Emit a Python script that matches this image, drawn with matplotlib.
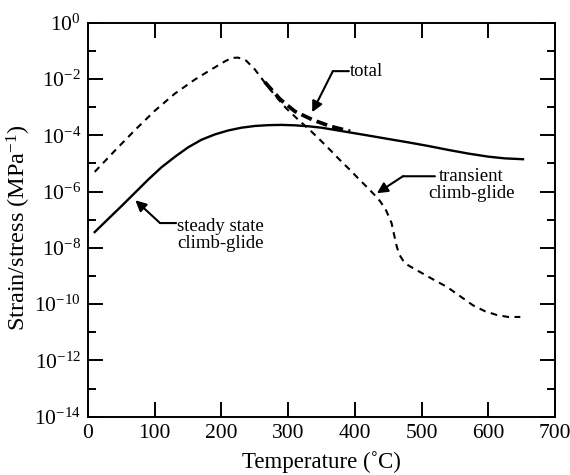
import numpy as np
import matplotlib.pyplot as plt
from matplotlib.ticker import FixedLocator, FuncFormatter

plt.rcParams['font.family'] = ['Liberation Serif', 'DejaVu Serif']
plt.rcParams['mathtext.fontset'] = 'custom'
plt.rcParams['mathtext.rm'] = 'Liberation Serif'
plt.rcParams['mathtext.it'] = 'Liberation Serif:italic'

# steady state climb-glide (solid)
T_steady = [10, 30, 50, 70, 90, 110, 130, 150, 170, 190, 210, 230, 250, 270, 290,
            310, 330, 350, 370, 390, 420, 450, 480, 510, 540, 570, 600, 625, 652]
s_steady = [3.63e-8, 1.05e-7, 3.02e-7, 8.9e-7, 2.63e-6, 7.24e-6, 1.7e-5, 3.72e-5,
            6.92e-5, 1.07e-4, 1.48e-4, 1.86e-4, 2.14e-4, 2.29e-4, 2.34e-4,
            2.26e-4, 2.09e-4, 1.86e-4, 1.55e-4, 1.29e-4, 9.8e-5, 7.4e-5, 5.6e-5,
            4.17e-5, 3.02e-5, 2.24e-5, 1.74e-5, 1.51e-5, 1.41e-5]

# transient climb-glide (thin dashed)
T_trans = [10, 40, 70, 100, 130, 160, 185, 205, 215, 225, 237, 250, 260, 270, 283,
           297, 315, 333, 348, 363, 378, 393, 405, 418, 428, 438, 447, 455, 459,
           463, 467, 472, 480, 490, 500, 518, 538, 558, 577, 595, 613, 630, 648]
s_trans = [5.0e-6, 2.8e-5, 1.5e-4, 7.4e-4, 3.0e-3, 9.5e-3, 2.2e-2, 4.2e-2, 5.6e-2,
           5.75e-2, 4.5e-2, 2.2e-2, 1.07e-2, 5.2e-3, 2.2e-3,
           9.1e-4, 3.6e-4, 1.5e-4, 6.8e-5, 3.0e-5, 1.29e-5, 5.8e-6, 2.95e-6,
           1.45e-6, 8.3e-7, 4.5e-7, 2.1e-7, 7.6e-8, 2.8e-8,
           1.07e-8, 5.6e-9, 3.6e-9, 2.4e-9, 1.74e-9, 1.29e-9, 7.4e-10, 4.1e-10,
           1.9e-10, 9.1e-11, 5.6e-11, 4.1e-11, 3.5e-11, 3.5e-11]

# total (thick dashed)
T_total = [265, 288, 310, 337, 363, 393]
s_total = [7.8e-3, 1.9e-3, 7.1e-4, 3.5e-4, 2.1e-4, 1.38e-4]

x_ticks = [0, 100, 200, 300, 400, 500, 600, 700]
y_major_exp = [0, -2, -4, -6, -8, -10, -12, -14]
y_minor_exp = [-1, -3, -5, -7, -9, -11, -13]

fig = plt.figure(figsize=(5.7, 4.75), dpi=100)
ax = fig.add_axes([0.1544, 0.1227, 0.8193, 0.8295])

ax.semilogy(T_steady, s_steady, color='black', lw=1.7)
ax.semilogy(T_trans, s_trans, color='black', lw=1.5, ls=(0, (3.2, 2.6)))
ax.semilogy(T_total, s_total, color='black', lw=2.7, ls=(0, (3.0, 1.4)))

ax.set_xlim(0, 700)
ax.set_ylim(1e-14, 1)
ax.xaxis.set_major_locator(FixedLocator(x_ticks))
ax.yaxis.set_major_locator(FixedLocator([10.0 ** e for e in y_major_exp]))
ax.yaxis.set_minor_locator(FixedLocator([10.0 ** e for e in y_minor_exp]))
ax.yaxis.set_major_formatter(FuncFormatter(
    lambda v, p: '$10^{%d}$' % round(np.log10(v))))
ax.yaxis.set_minor_formatter(FuncFormatter(lambda v, p: ''))

ax.tick_params(which='both', direction='in', top=True, right=True,
               labelsize=15.5, width=1.4, pad=5)
ax.tick_params(which='major', length=11)
ax.tick_params(which='minor', length=6)
for sp in ax.spines.values():
    sp.set_linewidth(1.4)

ax.set_xlabel('Temperature (˚C)', fontsize=16.5, labelpad=6)
ax.set_ylabel('Strain/stress (MPa$^{-1}$)', fontsize=17.5)
ax.yaxis.set_label_coords(-0.118, 0.48)

arrow = dict(arrowstyle='-|>', color='black', lw=1.5, mutation_scale=16,
             shrinkA=0, shrinkB=0)
plain = dict(arrowstyle='-', color='black', lw=1.5, shrinkA=0, shrinkB=0)

# steady state label
ax.annotate('', xy=(71, 4.9e-7), xytext=(108, 7.6e-8), arrowprops=arrow)
ax.annotate('', xy=(108, 7.6e-8), xytext=(132, 7.6e-8), arrowprops=plain)
ax.text(198, 2.9e-8, 'steady state\nclimb-glide', fontsize=13.5,
        ha='center', va='center', linespacing=0.95)

# total label
ax.annotate('', xy=(336, 6.6e-4), xytext=(367, 1.9e-2), arrowprops=arrow)
ax.annotate('', xy=(367, 1.9e-2), xytext=(391, 1.9e-2), arrowprops=plain)
ax.text(393, 1.9e-2, 'total', fontsize=13.5, ha='left', va='center')

# transient label
ax.annotate('', xy=(433, 8.7e-7), xytext=(472, 3.5e-6), arrowprops=arrow)
ax.annotate('', xy=(472, 3.5e-6), xytext=(520, 3.5e-6), arrowprops=plain)
ax.text(575, 1.7e-6, 'transient\nclimb-glide', fontsize=13.5,
        ha='center', va='center', linespacing=0.95)

fig.savefig('out.png', dpi=100)
